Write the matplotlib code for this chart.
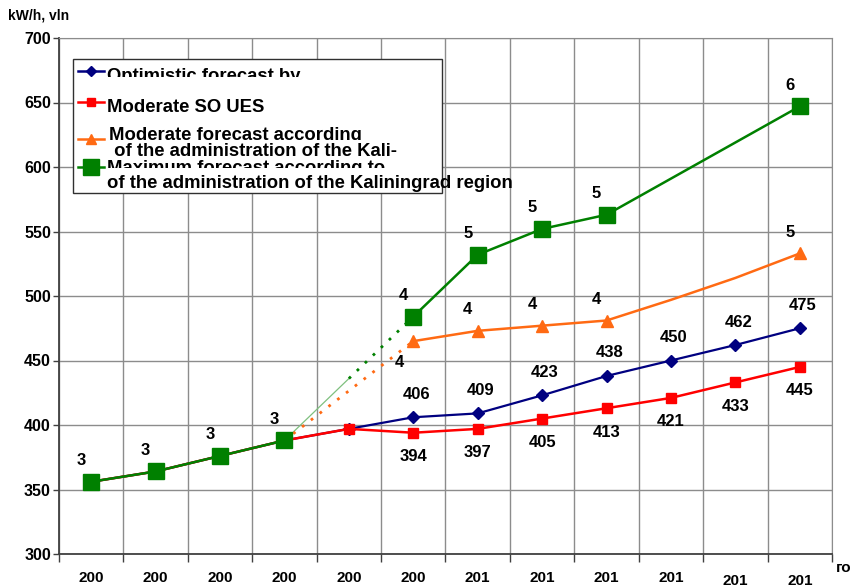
import numpy as np
import matplotlib
matplotlib.use("Agg")
import matplotlib.pyplot as plt
from matplotlib.transforms import Bbox, TransformedBbox
from matplotlib.patches import Rectangle
from matplotlib.lines import Line2D

plt.rcParams['font.family'] = ['Liberation Sans', 'DejaVu Sans']
plt.rcParams['font.weight'] = 'bold'

# data
year_labels = ['200'] * 6 + ['201'] * 6
optimistic = [356, 364, 376, 388, 397, 406, 409, 423, 438, 450, 462, 475]
moderate_so = [356, 364, 376, 388, 397, 394, 397, 405, 413, 421, 433, 445]
moderate_kal = [np.nan] * 5 + [465, 473, 477, 481, 497, 514, 533]
maximum_kal = [356, 364, 376, 388, np.nan, 484, 532, 552, 563, 591, 619, 647]
maximum_bridge = [388, 436, 484]      # 2008 -> 2009 -> 2010
moderate_bridge = [388, 427, 465]

optimistic_labels = ['406', '409', '423', '438', '450', '462', '475']
moderate_so_labels = ['394', '397', '405', '413', '421', '433', '445']
maximum_labels = ['3', '3', '3', '3', None, '4', '5', '5', '5', None, None, '6']
moderate_kal_labels = [None] * 5 + ['4', '4', '4', '4', None, None, '5']

legend_names = ['Optimistic forecast by',
                'Moderate SO UES',
                'Moderate forecast according\n of the administration of the Kali-',
                'Maximum forecast according to\nof the administration of the Kaliningrad region']

W, H = 851, 587
fig = plt.figure(figsize=(W / 100, H / 100), dpi=100)
ax = fig.add_axes([59 / W, (H - 554) / H, (832 - 59) / W, (554 - 38) / H])

x = np.arange(1, 13)
ax.set_xlim(0.5, 12.5)
ax.set_ylim(300, 700)

ax.set_xticks(np.arange(0.5, 13, 1))
ax.set_xticklabels([])
ax.set_xticks(x, minor=True)
ax.set_xticklabels(year_labels, minor=True, fontsize=11, fontweight='bold')
ax.tick_params(axis='x', which='major', direction='out', length=5.8, width=1, color='#404040')
ax.tick_params(axis='x', which='minor', length=0, pad=12)
for t in ax.xaxis.get_minor_ticks()[10:]:
    t.set_pad(14.5)
ax.set_yticks(np.arange(300, 701, 50))
ax.tick_params(axis='y', direction='out', length=4.3, width=1, pad=1.5, color='#404040',
               labelsize=11.5)
for lab in ax.get_yticklabels():
    lab.set_fontweight('bold')

ax.grid(True, which='major', color='#8c8c8c', linewidth=1)
ax.set_axisbelow(True)
for side in ['top', 'right']:
    ax.spines[side].set_color('#8c8c8c')
for side in ['left', 'bottom']:
    ax.spines[side].set_color('#404040')
    ax.spines[side].set_linewidth(1.3)

# bridges 2008 -> 2010
ax.plot([4, 5], maximum_bridge[:2], color='#7fc07f', lw=0.9, zorder=3)
ax.plot([5, 6], maximum_bridge[1:], color='#008000', lw=2, ls=(0, (1, 3)), zorder=3)
ax.plot([4, 6], [moderate_bridge[0], moderate_bridge[2]], color='#ff6a13', lw=2,
        ls=(0, (1, 3)), zorder=3)

ax.plot(x, optimistic, color='#000080', lw=1.6, marker='D', ms=6, zorder=4)
ax.plot(x, moderate_so, color='#ff0000', lw=1.8, marker='s', ms=7, zorder=5)
ax.plot(x, moderate_kal, color='#ff6a13', lw=1.8, marker='^', ms=8,
        markevery=[5, 6, 7, 8, 11], zorder=5)
ax.plot(x, maximum_kal, color='#008000', lw=1.8, marker='s', ms=11,
        markevery=[0, 1, 2, 3, 5, 6, 7, 8, 11], zorder=6)

lab_kw = dict(textcoords='offset pixels', ha='center', va='center', fontsize=12,
              fontweight='bold', zorder=7)
for i, s in enumerate(optimistic_labels):
    ax.annotate(s, (x[5 + i], optimistic[5 + i]), xytext=(3, 23), **lab_kw)
for i, s in enumerate(moderate_so_labels):
    ax.annotate(s, (x[5 + i], moderate_so[5 + i]), xytext=(0, -24), **lab_kw)
for i, s in enumerate(maximum_labels):
    if s:
        ax.annotate(s, (x[i], maximum_kal[i]), xytext=(-10, 21), **lab_kw)
for i, s in enumerate(moderate_kal_labels):
    if s:
        dy = -21 if i == 5 else 21
        dx = -14 if i == 5 else -10
        ax.annotate(s, (x[i], moderate_kal[i]), xytext=(dx, dy), **lab_kw)

# hand-drawn legend box (pixel layout of the original)
def fx(px):
    return px / W

def fy(py):
    return 1 - py / H

fig.patches.append(Rectangle((fx(73), fy(193)), fx(442) - fx(73), fy(59) - fy(193),
                             transform=fig.transFigure, facecolor='white',
                             edgecolor='#303030', lw=1, zorder=8))
samples = [('#000080', 'D', 5, 71), ('#ff0000', 's', 6, 102),
           ('#ff6a13', '^', 7, 139), ('#008000', 's', 11, 167)]
for c, m, ms, py in samples:
    fig.lines.append(Line2D([fx(78), fx(91), fx(104)], [fy(py)] * 3,
                            transform=fig.transFigure, color=c, lw=1.8, marker=m,
                            ms=ms, markevery=[1], zorder=9))


def legend_text(s, px, base, clip=None):
    t = fig.text(fx(px), fy(base), s, fontsize=13.3, fontweight='bold', va='baseline',
                 ha='left', zorder=10)
    if clip is not None:
        t.set_clip_box(TransformedBbox(Bbox.from_extents(0, fy(clip), 1, 1), fig.transFigure))
        t.set_clip_on(True)


names = [line for n in legend_names for line in n.split('\n')]
legend_text(names[0], 107, 81, clip=77)
legend_text(names[1], 107, 112)
legend_text(names[2], 109, 140, clip=140)
legend_text(names[3], 109, 156)
legend_text(names[4], 107, 173, clip=168)
legend_text(names[5], 107, 188)

fig.text(fx(8), fy(20), 'kW/h, vln', fontsize=10, fontweight='bold', va='baseline')
fig.text(fx(836), fy(572), 'го', fontsize=11, fontweight='bold', va='baseline')

fig.savefig('out.png', dpi=100)
